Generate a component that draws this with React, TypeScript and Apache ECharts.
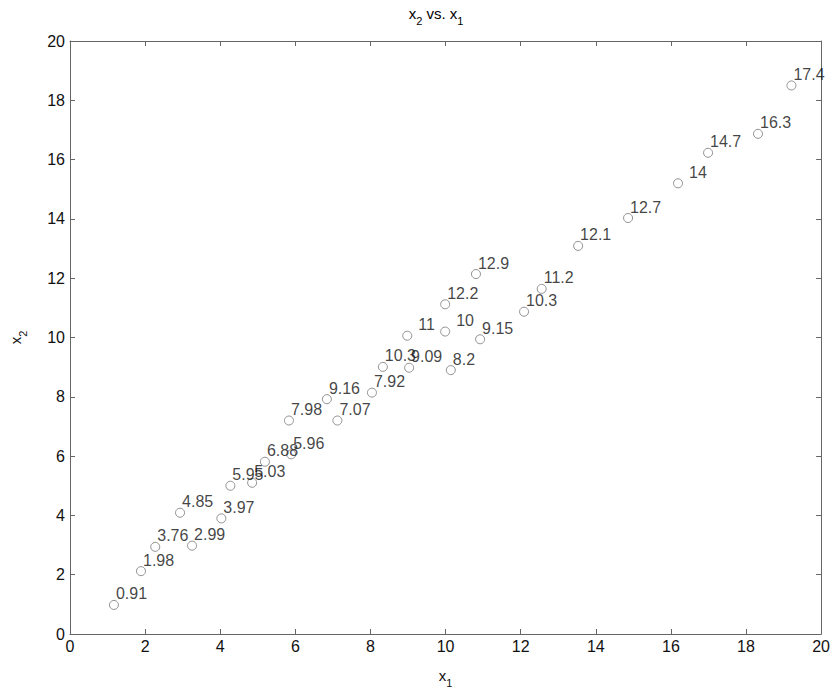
import React, { useEffect, useRef } from "react";
import * as echarts from "echarts";

const xValues = [1.17, 1.89, 2.27, 3.25, 2.93, 4.03, 4.27, 4.85, 5.19, 5.89, 5.83, 6.84, 7.12, 8.04, 8.33, 9.03, 8.98, 10.14, 9.99, 10.92, 9.99, 10.81, 12.09, 12.56, 13.53, 14.86, 16.19, 16.99, 18.32, 19.21];
const yValues = [0.98, 2.12, 2.94, 2.98, 4.09, 3.9, 5.0, 5.1, 5.81, 6.06, 7.2, 7.92, 7.2, 8.14, 9.01, 8.98, 10.06, 8.9, 10.2, 9.94, 11.12, 12.14, 10.87, 11.64, 13.09, 14.03, 15.2, 16.23, 16.87, 18.5];
const pointLabels = ["0.91", "1.98", "3.76", "2.99", "4.85", "3.97", "5.95", "5.03", "6.88", "5.96", "7.98", "9.16", "7.07", "7.92", "10.3", "9.09", "11", "8.2", "10", "9.15", "12.2", "12.9", "10.3", "11.2", "12.1", "12.7", "14", "14.7", "16.3", "17.4"];
const xTicks = [0, 2, 4, 6, 8, 10, 12, 14, 16, 18, 20];
const yTicks = [0, 2, 4, 6, 8, 10, 12, 14, 16, 18, 20];

const FONT = "'Liberation Sans', Arial, sans-serif";

export default function App() {
  const ref = useRef<HTMLDivElement>(null);
  useEffect(() => {
    if (!ref.current) return;
    const chart = echarts.init(ref.current, null, { renderer: "svg" });
    const data = xValues.map((x, i) => {
      const txt = pointLabels[i];
      const item: any = { value: [x, yValues[i]], name: txt };
      if (txt.indexOf(".") < 0) {
        item.label = { offset: [11, 2] };
      }
      return item;
    });
    const subRich = {
      n: { fontSize: 15, lineHeight: 20, verticalAlign: "top", fontFamily: FONT, color: "#111" },
      s: { fontSize: 11, lineHeight: 10, verticalAlign: "bottom", fontFamily: FONT, color: "#111" },
    };
    const axisCommon = {
      min: xTicks[0],
      max: xTicks[xTicks.length - 1],
      interval: 2,
      splitLine: { show: false },
      axisLine: { show: true, onZero: false, lineStyle: { color: "#666", width: 1 } },
      axisTick: { show: true, inside: true, length: 5, lineStyle: { color: "#666" } },
    };
    chart.setOption({
      animation: false,
      backgroundColor: "#fff",
      grid: { left: 62, right: 9, top: 41, bottom: 52, containLabel: false },
      graphic: [
        {
          type: "text",
          x: 436,
          y: 6,
          style: {
            text: "{n|x}{s|2}{n| vs. x}{s|1}",
            rich: subRich,
            textAlign: "center",
            font: "15px " + FONT,
          },
        },
      ],
      xAxis: [
        {
          ...axisCommon,
          type: "value",
          position: "bottom",
          name: "{n|x}{s|1}",
          nameLocation: "middle",
          nameGap: 34,
          nameTextStyle: { rich: subRich },
          axisLabel: { margin: 4, fontSize: 16, color: "#111", fontFamily: FONT },
        },
        {
          ...axisCommon,
          type: "value",
          position: "top",
          axisLabel: { show: false },
        },
      ],
      yAxis: [
        {
          ...axisCommon,
          min: yTicks[0],
          max: yTicks[yTicks.length - 1],
          type: "value",
          position: "left",
          name: "{n|x}{s|2}",
          nameLocation: "middle",
          nameGap: 42,
          nameRotate: 90,
          nameTextStyle: { rich: subRich },
          axisLabel: { margin: 5, fontSize: 16, color: "#111", fontFamily: FONT },
        },
        {
          ...axisCommon,
          min: yTicks[0],
          max: yTicks[yTicks.length - 1],
          type: "value",
          position: "right",
          axisLabel: { show: false },
        },
      ],
      series: [
        {
          type: "scatter",
          xAxisIndex: 0,
          yAxisIndex: 0,
          symbol: "circle",
          symbolSize: 9,
          itemStyle: { color: "rgba(255,255,255,0)", borderColor: "#777", borderWidth: 1 },
          label: {
            show: true,
            position: "top",
            align: "left",
            verticalAlign: "bottom",
            distance: 0,
            offset: [2, 2],
            formatter: (p: any) => p.name,
            fontSize: 16,
            color: "#111",
            fontFamily: FONT,
          },
          emphasis: { disabled: true },
          data,
        },
      ],
    });
    return () => chart.dispose();
  }, []);
  return (
    <div
      ref={ref}
      style={{ position: "fixed", left: 0, top: 0, width: 833, height: 693, background: "#fff" }}
    />
  );
}
